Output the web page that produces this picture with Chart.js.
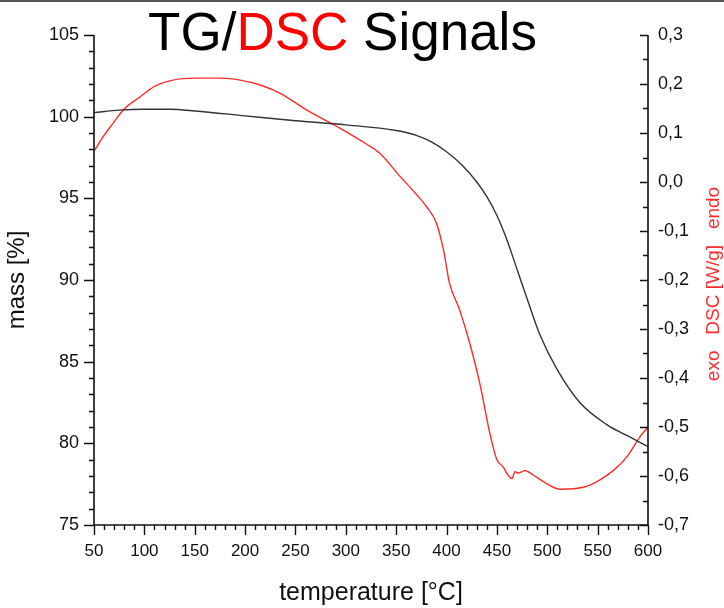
<!DOCTYPE html>
<html>
<head>
<meta charset="utf-8">
<script src="https://cdn.jsdelivr.net/npm/chart.js@4/dist/chart.umd.min.js"></script>
<style>
  html, body { margin: 0; padding: 0; background: #fff; }
  #wrap { position: relative; width: 724px; height: 608px; }
  canvas { display: block; }
</style>
</head>
<body>
<div id="wrap"><canvas id="c" width="724" height="608"></canvas></div>
<script>
// ---- data ----
const tgTemps = [50, 75, 100, 125, 150, 200, 250, 300, 350, 370, 385, 400, 415, 430, 440, 450, 460, 470, 480, 493, 510, 533, 559, 580, 600];
const tgMass  = [100.25, 100.4, 100.45, 100.45, 100.35, 100.05, 99.75, 99.5, 99.15, 98.85, 98.45, 97.85, 97.05, 96.0, 95.1, 93.95, 92.45, 90.65, 88.85, 86.6, 84.5, 82.45, 81.15, 80.45, 79.8];

const dscTemps = [50, 60, 69, 79, 96, 110, 126, 152, 175, 195, 215, 235, 261, 294, 320, 334, 354, 370, 380, 390, 397, 403, 413, 423, 433, 443, 450, 456, 461, 465, 468, 471, 478, 486, 499, 513, 536, 549, 566, 579, 592, 600];
const dscValues = [0.063, 0.095, 0.12, 0.147, 0.174, 0.195, 0.207, 0.212, 0.212, 0.208, 0.198, 0.181, 0.147, 0.110, 0.078, 0.058, 0.011, -0.025, -0.050, -0.084, -0.139, -0.207, -0.261, -0.329, -0.411, -0.513, -0.567, -0.581, -0.598, -0.605, -0.591, -0.594, -0.589, -0.598, -0.615, -0.627, -0.623, -0.612, -0.588, -0.561, -0.52, -0.50];

const xTickRange = [50, 600];
const massRange = [75, 105];
const dscRange = [-0.7, 0.3];

const titleParts = ["TG/", "DSC", " Signals"];
const xTitle = "temperature [°C]";
const yTitle = "mass [%]";
const y1Title = "exo   DSC [W/g]   endo";

const FONT = "'Liberation Sans', Arial, Helvetica, sans-serif";
const RED = '#ff2a2a';

const decorPlugin = {
  id: 'decor',
  afterDraw(chart) {
    const ctx = chart.ctx;
    const a = chart.chartArea;
    const sx = chart.scales.x, sy = chart.scales.y, sy1 = chart.scales.y1;
    ctx.save();
    // top border line
    ctx.fillStyle = '#555';
    ctx.fillRect(0, 0, 724, 2);

    ctx.strokeStyle = '#111';
    ctx.lineWidth = 1.6;
    ctx.lineCap = 'butt';
    ctx.beginPath();
    ctx.moveTo(a.left, a.top); ctx.lineTo(a.left, a.bottom);
    ctx.moveTo(a.left, a.bottom); ctx.lineTo(a.right, a.bottom);
    ctx.moveTo(a.right, a.top); ctx.lineTo(a.right, a.bottom);
    ctx.stroke();

    ctx.lineWidth = 1.4;
    ctx.beginPath();
    for (let v = massRange[0]; v <= massRange[1]; v++) {
      const y = Math.round(sy.getPixelForValue(v)) + 0.5;
      const len = (v % 5 === 0) ? 10 : 5;
      ctx.moveTo(a.left, y); ctx.lineTo(a.left - len, y);
    }
    for (let v = xTickRange[0]; v <= xTickRange[1]; v += 10) {
      const x = Math.round(sx.getPixelForValue(v)) + 0.5;
      const len = (v % 50 === 0) ? 10 : 5;
      ctx.moveTo(x, a.bottom); ctx.lineTo(x, a.bottom + len);
    }
    for (let i = 0; i <= 20; i++) {
      const v = dscRange[0] + i * 0.05;
      const y = Math.round(sy1.getPixelForValue(v)) + 0.5;
      const len = (i % 2 === 0) ? 8 : 5;
      ctx.moveTo(a.right, y); ctx.lineTo(a.right - len, y);
    }
    ctx.stroke();

    // title with mixed colours
    ctx.font = "53px " + FONT;
    ctx.textBaseline = 'alphabetic';
    ctx.textAlign = 'left';
    const colors = ['#000', '#ff0000', '#000'];
    const widths = titleParts.map(t => ctx.measureText(t).width);
    const total = widths.reduce((s, w) => s + w, 0);
    let tx = 342.5 - total / 2;
    titleParts.forEach((t, i) => {
      ctx.fillStyle = colors[i];
      ctx.fillText(t, tx, 50);
      tx += widths[i];
    });

    // x title
    ctx.font = "25px " + FONT;
    ctx.fillStyle = '#111';
    ctx.textAlign = 'center';
    ctx.textBaseline = 'middle';
    ctx.fillText(xTitle, (a.left + a.right) / 2, 593);

    // left y title
    ctx.save();
    ctx.font = "24px " + FONT;
    ctx.translate(17, 280);
    ctx.rotate(-Math.PI / 2);
    ctx.fillText(yTitle, 0, 0);
    ctx.restore();

    // right y title (red)
    ctx.save();
    ctx.font = "19px " + FONT;
    ctx.fillStyle = RED;
    ctx.translate(714, 284);
    ctx.rotate(-Math.PI / 2);
    ctx.fillText(y1Title.replace(/ /g, '\u00a0'), 0, 0);
    ctx.restore();

    ctx.restore();
  }
};

const fmtComma = v => {
  if (Math.abs(v) < 1e-9) return '0,0';
  return v.toFixed(1).replace('.', ',');
};

new Chart(document.getElementById('c'), {
  type: 'line',
  data: {
    datasets: [
      {
        label: 'TG',
        data: tgTemps.map((t, i) => ({ x: t, y: tgMass[i] })),
        yAxisID: 'y',
        borderColor: '#333',
        borderWidth: 1.4,
        pointRadius: 0,
        cubicInterpolationMode: 'monotone',
        fill: false
      },
      {
        label: 'DSC',
        data: dscTemps.map((t, i) => ({ x: t, y: dscValues[i] })),
        yAxisID: 'y1',
        borderColor: RED,
        borderWidth: 1.4,
        pointRadius: 0,
        cubicInterpolationMode: 'monotone',
        fill: false
      }
    ]
  },
  options: {
    responsive: false,
    animation: false,
    devicePixelRatio: 1,
    layout: { padding: { top: 35, left: 0, right: 0, bottom: 0 } },
    plugins: { legend: { display: false }, title: { display: false }, tooltip: { enabled: false } },
    scales: {
      x: {
        type: 'linear',
        position: 'bottom',
        min: xTickRange[0], max: xTickRange[1],
        grid: { display: false, drawTicks: false },
        border: { display: false },
        ticks: { stepSize: 50, color: '#111', font: { family: FONT, size: 17 }, padding: 16, maxRotation: 0, autoSkip: false },
        afterFit: s => { s.height = 83; }
      },
      y: {
        type: 'linear',
        position: 'left',
        min: massRange[0], max: massRange[1],
        grid: { display: false, drawTicks: false },
        border: { display: false },
        ticks: { stepSize: 5, color: '#111', font: { family: FONT, size: 18 }, padding: 15 },
        afterFit: s => { s.width = 94; }
      },
      y1: {
        type: 'linear',
        position: 'right',
        min: dscRange[0], max: dscRange[1],
        grid: { display: false, drawTicks: false },
        border: { display: false },
        ticks: { stepSize: 0.1, color: '#111', font: { family: FONT, size: 18 }, padding: 10, callback: v => fmtComma(v) },
        afterFit: s => { s.width = 76; }
      }
    }
  },
  plugins: [decorPlugin]
});
</script>
</body>
</html>
